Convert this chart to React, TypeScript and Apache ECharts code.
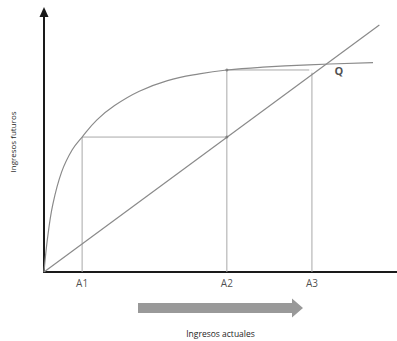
import React, { useEffect, useRef } from "react";
import * as echarts from "echarts";

// Point labels on the horizontal axis and their positions (data units)
const aLabels = ["A1", "A2", "A3"];
const aPositions = [10.8, 51.8, 75.9];
// Heights reached by the guide lines above each A point
const aHeights = [51.9, 77.7, 77.7];

// Concave curve (future income as a function of current income)
const curveX = [0, 1, 2.5, 5, 8, 10.8, 15, 20, 27, 35, 44, 51.8, 62, 75, 93.2];
const curveY = [0, 13, 26, 38.5, 47, 51.9, 58.5, 64, 69.5, 73.6, 76.2, 77.7, 78.8, 79.7, 80.5];

// 45-degree line
const diagX = [0, 95];
const diagY = [0, 95];

// Equilibrium point
const qPoint = [80.2, 80.2];
const qLabel = "Q";

const xName = "Ingresos actuales";
const yName = "Ingresos futuros";

export default function App() {
  const ref = useRef<HTMLDivElement>(null);
  useEffect(() => {
    if (!ref.current) return;
    const chart = echarts.init(ref.current, undefined, { renderer: "svg" });

    const curve = curveX.map((x, i) => [x, curveY[i]]);
    const diag = diagX.map((x, i) => [x, diagY[i]]);

    const guideSeries: any[] = [];
    aPositions.forEach((x, i) => {
      guideSeries.push({
        type: "line",
        data: [[x, 0], [x, aHeights[i]]],
        symbol: "none",
        lineStyle: { color: "#a8a8a8", width: 1 },
        silent: true,
        z: 1,
      });
      if (i < aPositions.length - 1) {
        guideSeries.push({
          type: "line",
          data: [[x, aHeights[i]], [aPositions[i + 1], aHeights[i]]],
          symbol: "none",
          lineStyle: { color: "#a8a8a8", width: 1 },
          silent: true,
          z: 1,
        });
      }
    });

    const font = "'Open Sans', 'Noto Sans', sans-serif";

    chart.setOption({
      animation: false,
      backgroundColor: "#ffffff",
      grid: { left: 44, right: 0, top: 12, bottom: 69, outerBoundsMode: "none" },
      xAxis: {
        type: "value",
        min: 0,
        max: 100,
        name: xName,
        nameLocation: "middle",
        nameGap: 57,
        nameTextStyle: { fontFamily: font, fontSize: 8.5, color: "#1e1e1e" },
        axisLine: { lineStyle: { color: "#1a1a1a", width: 2 } },
        axisTick: { show: false },
        axisLabel: { show: false },
        splitLine: { show: false },
      },
      yAxis: {
        type: "value",
        min: 0,
        max: 100,
        name: yName,
        nameLocation: "middle",
        nameRotate: 90,
        nameGap: 28,
        nameTextStyle: { fontFamily: font, fontSize: 8, color: "#1e1e1e" },
        axisLine: {
          lineStyle: { color: "#1a1a1a", width: 2 },
          symbol: ["none", "triangle"],
          symbolSize: [9, 10],
        },
        axisTick: { show: false },
        axisLabel: { show: false },
        splitLine: { show: false },
      },
      graphic: [
        {
          type: "polygon",
          shape: {
            points: [
              [138, 303],
              [292, 303],
              [292, 298.5],
              [303, 308],
              [292, 317.5],
              [292, 313],
              [138, 313],
            ],
          },
          style: { fill: "#999999" },
        },
      ],
      series: [
        ...guideSeries,
        {
          type: "line",
          data: curve,
          symbol: "none",
          smooth: 0.4,
          lineStyle: { color: "#8a8a8a", width: 1.2 },
          z: 2,
        },
        {
          type: "line",
          data: diag,
          symbol: "none",
          lineStyle: { color: "#8a8a8a", width: 1.2 },
          z: 2,
        },
        {
          type: "scatter",
          data: [
            [aPositions[1], aHeights[0]],
            [aPositions[1], aHeights[1]],
          ],
          symbol: "circle",
          symbolSize: 3,
          itemStyle: { color: "#777" },
          z: 3,
        },
        {
          type: "scatter",
          data: [[aPositions[2], aHeights[2]]],
          symbol: "emptyCircle",
          symbolSize: 4,
          itemStyle: { color: "#fff", borderColor: "#777", borderWidth: 1 },
          z: 3,
        },
        {
          type: "scatter",
          data: aPositions.map((x, i) => ({ value: [x, 0], name: aLabels[i] })),
          symbol: "circle",
          symbolSize: 1,
          itemStyle: { color: "transparent" },
          label: {
            show: true,
            position: "bottom",
            distance: 5,
            formatter: (p: any) => p.name,
            fontFamily: font,
            fontSize: 10,
            color: "#1e1e1e",
          },
          z: 4,
        },
        {
          type: "scatter",
          data: [{ value: qPoint, name: qLabel }],
          symbol: "circle",
          symbolSize: 1,
          itemStyle: { color: "transparent" },
          label: {
            show: true,
            position: "right",
            offset: [2, 7],
            formatter: (p: any) => p.name,
            fontFamily: font,
            fontSize: 11,
            fontWeight: "bold",
            color: "#222",
          },
          z: 4,
        },
      ],
    });
    return () => chart.dispose();
  }, []);
  return <div ref={ref} style={{ width: 397, height: 341, position: "absolute", left: 0, top: 0 }} />;
}
